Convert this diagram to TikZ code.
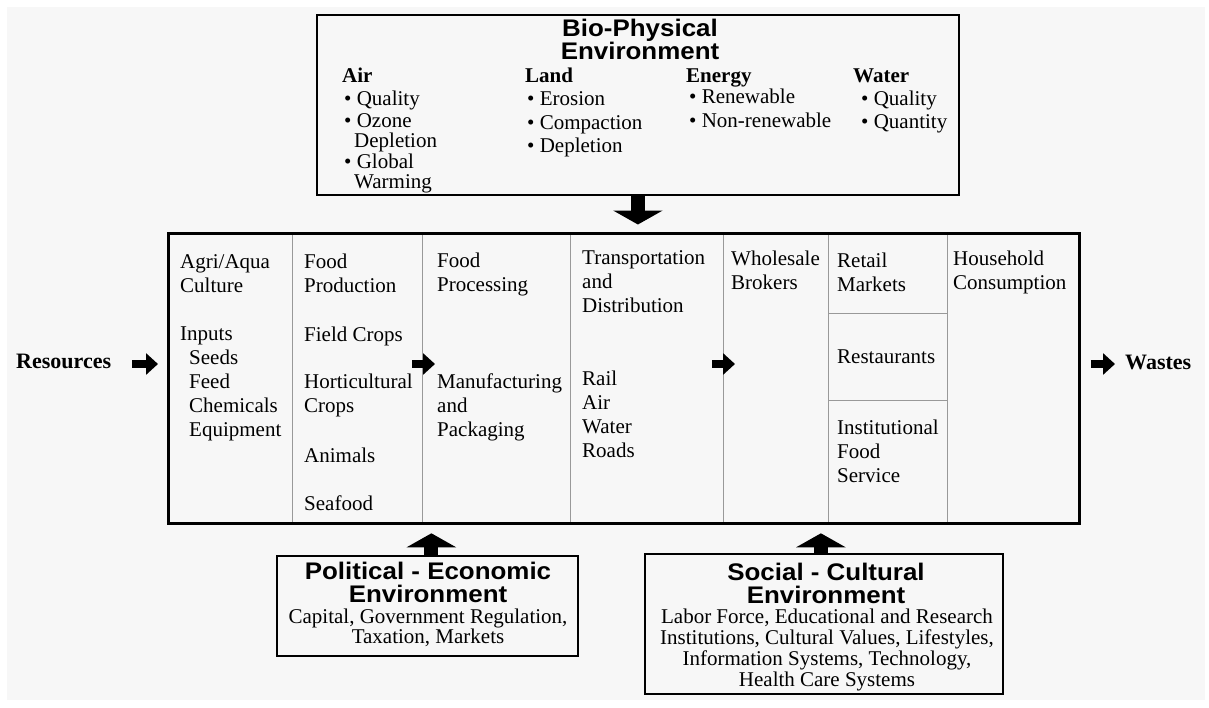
\documentclass[tikz,border=0pt]{standalone}
\usepackage{fontspec}
\setmainfont{Liberation Serif}
\newfontfamily\headfont[FakeStretch=1.08]{Liberation Sans}
\usetikzlibrary{arrows.meta}
\definecolor{bggray}{RGB}{247,247,247}
\newcommand\headsize{\headfont\bfseries\fontsize{24}{23}\selectfont\lineskiplimit=-30pt\relax}

\begin{document}
\begin{tikzpicture}[x=1pt,y=-1pt]
	\tikzstyle{frame}=[draw,line width=1.8pt,inner sep=0pt,anchor=north west]
	\tikzstyle{divider}=[draw=black!40,line width=0.9pt]
	\tikzstyle{txt}=[anchor=base west,inner sep=0pt,align=left,font=\fontsize{21}{24}\selectfont]
	\tikzstyle{bodytxt}=[anchor=base,inner sep=0pt,align=center,font=\fontsize{21}{21}\selectfont]
	\tikzstyle{headtxt}=[anchor=base,inner sep=0pt,align=center,font=\headsize]
	\tikzstyle{bigarrow}=[line width=14pt,-{Triangle[width=49pt,length=14pt]}]
	\tikzstyle{smallarrow}=[line width=8pt,-{Triangle[width=21pt,length=12pt]}]

	\useasboundingbox (0,0) rectangle (1209,707);
	\fill[bggray] (7,7) rectangle (1205,700);

	% multi-line texts sit on the baseline of their last line
	\node[frame,minimum width=642pt,minimum height=180pt] (bio) at (316,14) {};
	\node[headtxt] (biohead) at (640,59) {Bio-Physical\\Environment};
	\foreach \x / \y / \n / \t in {342/82/air/Air,525/82/land/Land,686/82/energy/Energy,853/82/water/Water} { \node[txt,font=\bfseries\fontsize{21}{24}\selectfont] (\n) at (\x,\y) {\t};}
	\foreach \x / \y / \n / \t in {344/105/airq/Quality,344/127/airo/Ozone,344/168/airg/Global,527/105/lande/Erosion,527/129/landc/Compaction,527/152/landd/Depletion,689/103/enr/Renewable,689/127/enn/Non-renewable,861/105/watql/Quality,861/128/watqn/Quantity} { \node[txt] (\n) at (\x,\y) {\textbullet\ \t};}
	\foreach \x / \y / \n / \t in {354/147/aird/Depletion,354/188/airw/Warming} { \node[txt] (\n) at (\x,\y) {\t};}

	\foreach \x [count=\i] in {292,422,570,723,828,947} { \coordinate (d\i) at (\x,364); \draw[divider] (\x,232) -- (\x,522);}
	\draw[divider] (828,313) -- (947,313);
	\draw[divider] (828,400) -- (947,400);
	\node[frame,line width=2.8pt,minimum width=911pt,minimum height=290pt] (chain) at (167,232) {};

	\foreach \x / \y / \n / \t in {180/292/agri/{Agri/Aqua\\Culture},180/340/inputs/Inputs,189/436/seeds/{Seeds\\Feed\\Chemicals\\Equipment},
		304/292/prod/{Food\\Production},304/341/field/Field Crops,304/412/hort/{Horticultural\\Crops},304/462/anim/Animals,304/510/sea/Seafood,
		437/291/proc/{Food\\Processing},437/436/manu/{Manufacturing\\and\\Packaging},
		582/312/trans/{Transportation\\and\\Distribution},582/457/modes/{Rail\\Air\\Water\\Roads},
		731/289/whole/{Wholesale\\Brokers},
		837/291/retail/{Retail\\Markets},837/363/rest/Restaurants,837/482/inst/{Institutional\\Food\\Service},
		953/289/house/{Household\\Consumption}} { \node[txt] (\n) at (\x,\y) {\t};}

	\node[txt,font=\bfseries\fontsize{22}{24}\selectfont] (res) at (16,368) {Resources};
	\node[txt,font=\bfseries\fontsize{22}{24}\selectfont] (wst) at (1125,369) {Wastes};
	\coordinate (flow) at (0,364);
	\draw[smallarrow] ([xshift=21pt]res.east |- flow) -- ([xshift=-9pt]chain.west |- flow);
	\draw[smallarrow] ([xshift=-10pt]d2) -- ([xshift=13pt]d2);
	\draw[smallarrow] ([xshift=-11pt]d4) -- ([xshift=12pt]d4);
	\draw[smallarrow] ([xshift=10pt]chain.east |- flow) -- ([xshift=-10pt]wst.west |- flow);

	\node[frame,minimum width=301pt,minimum height=100pt] (pol) at (276,555) {};
	\node[headtxt] (polhead) at (428,602) {Political - Economic\\Environment};
	\node[bodytxt,font=\fontsize{21}{20}\selectfont] (poltxt) at (428,643) {Capital, Government Regulation,\\Taxation, Markets};

	\node[frame,minimum width=358pt,minimum height=140pt] (soc) at (644,553) {};
	\node[headtxt] (sochead) at (826,603) {Social - Cultural\\Environment};
	\node[bodytxt] (soctxt) at (827,686) {Labor Force, Educational and Research\\Institutions, Cultural Values, Lifestyles,\\Information Systems, Technology,\\Health Care Systems};

	\draw[bigarrow,shorten >=7.5pt] (bio.south) -- (bio.south |- chain.north);
	\draw[bigarrow,shorten >=8.5pt] ([xshift=4pt]pol.north) -- ([xshift=4pt]pol.north |- chain.south);
	\draw[bigarrow,shorten >=8.5pt] ([xshift=-3pt]soc.north) -- ([xshift=-3pt]soc.north |- chain.south);
\end{tikzpicture}
\end{document}
